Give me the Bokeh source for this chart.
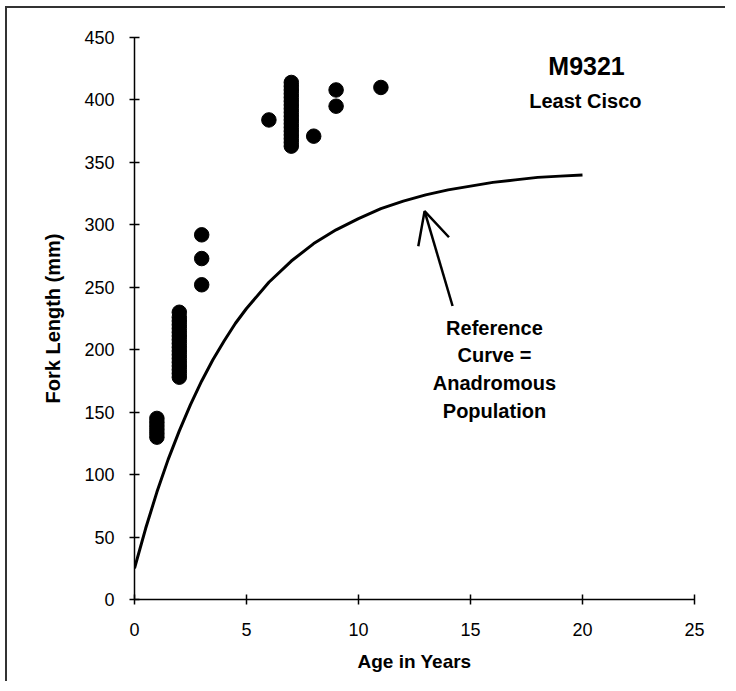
from bokeh.plotting import figure
from bokeh.models import Label, Arrow, OpenHead, FixedTicker
from bokeh.embed import file_html
from bokeh.resources import INLINE

# Observed fish: age (years) and fork length (mm)
age1_len = [130, 133, 136, 139, 142, 145]
age2_len = [178, 181, 184, 187, 190, 193, 196, 199, 202, 205, 208, 211, 214, 217, 220, 223, 226, 230]
age3_len = [252, 273, 292]
age6_len = [384]
age7_len = [363, 366, 369, 372, 375, 378, 381, 384, 387, 390, 393, 396, 399, 402, 405, 408, 411, 414]
age8_len = [371]
age9_len = [395, 408]
age11_len = [410]

# Reference curve (anadromous population)
curve_age = [0, 0.5, 1, 1.5, 2, 2.5, 3, 3.5, 4, 4.5, 5, 6, 7, 8, 9, 10, 11, 12, 13, 14, 15, 16, 17, 18, 19, 20]
curve_len = [25, 57, 86, 112, 135, 156, 175, 192, 207, 221, 233, 254, 271, 285, 296, 305, 313, 319, 324, 328, 331, 334, 336, 338, 339, 340]

x_ticks = [0, 5, 10, 15, 20, 25]
y_ticks = [0, 50, 100, 150, 200, 250, 300, 350, 400, 450]

xs, ys = [], []
for a, lst in [(1, age1_len), (2, age2_len), (3, age3_len), (6, age6_len),
               (7, age7_len), (8, age8_len), (9, age9_len), (11, age11_len)]:
    xs += [a] * len(lst)
    ys += lst

FONT = "Liberation Sans"

p = figure(width=720, height=675, x_range=(0, 25), y_range=(0, 450),
           output_backend="svg", toolbar_location=None,
           min_border_left=127, min_border_right=33, min_border_top=29, min_border_bottom=84)
p.outline_line_color = None
p.grid.grid_line_color = None
p.background_fill_color = "white"
p.styles = {"border-top": "2px solid #333", "border-left": "2px solid #333",
            "margin-left": "5px", "margin-top": "6px"}

for ax in (p.xaxis[0], p.yaxis[0]):
    ax.axis_line_color = "black"
    ax.axis_line_width = 1.5
    ax.major_tick_in = 5
    ax.major_tick_out = 5
    ax.major_tick_line_width = 1.5
    ax.minor_tick_line_color = None
    ax.major_label_text_font = FONT
    ax.major_label_text_font_size = "18px"
    ax.major_label_text_color = "black"
    ax.axis_label_text_font = FONT
    ax.axis_label_text_font_style = "bold"
    ax.axis_label_text_color = "black"

p.xaxis.ticker = FixedTicker(ticks=x_ticks)
p.yaxis.ticker = FixedTicker(ticks=y_ticks)
p.xaxis.axis_label = "Age in Years"
p.yaxis.axis_label = "Fork Length (mm)"
p.xaxis.axis_label_text_font_size = "19px"
p.yaxis.axis_label_text_font_size = "20px"
p.xaxis.major_label_standoff = 18
p.xaxis.axis_label_standoff = 12
p.yaxis.major_label_standoff = 15
p.yaxis.axis_label_standoff = 17

p.line(curve_age, curve_len, line_color="black", line_width=3)
p.scatter(xs, ys, size=14.5, color="black")

p.add_layout(Arrow(end=OpenHead(size=32, line_width=2.5, line_color="black"),
                   x_start=14.2, y_start=235, x_end=12.95, y_end=311,
                   line_width=2.5, line_color="black"))

for i, t in enumerate(["Reference", "Curve =", "Anadromous", "Population"]):
    p.add_layout(Label(x=16.07, y=(599 - 327 - 27.7 * i) / 1.249, text=t,
                       text_font=FONT, text_font_style="bold", text_font_size="20px",
                       text_align="center", text_baseline="middle", text_color="black"))

p.add_layout(Label(x=20.18, y=(599 - 65) / 1.249, text="M9321", text_font=FONT,
                   text_font_size="25px", text_font_style="bold",
                   text_align="center", text_baseline="middle", text_color="black"))
p.add_layout(Label(x=20.13, y=(599 - 100) / 1.249, text="Least Cisco", text_font=FONT,
                   text_font_size="20px", text_font_style="bold",
                   text_align="center", text_baseline="middle", text_color="black"))

open("out.html", "w").write(file_html(p, INLINE))
